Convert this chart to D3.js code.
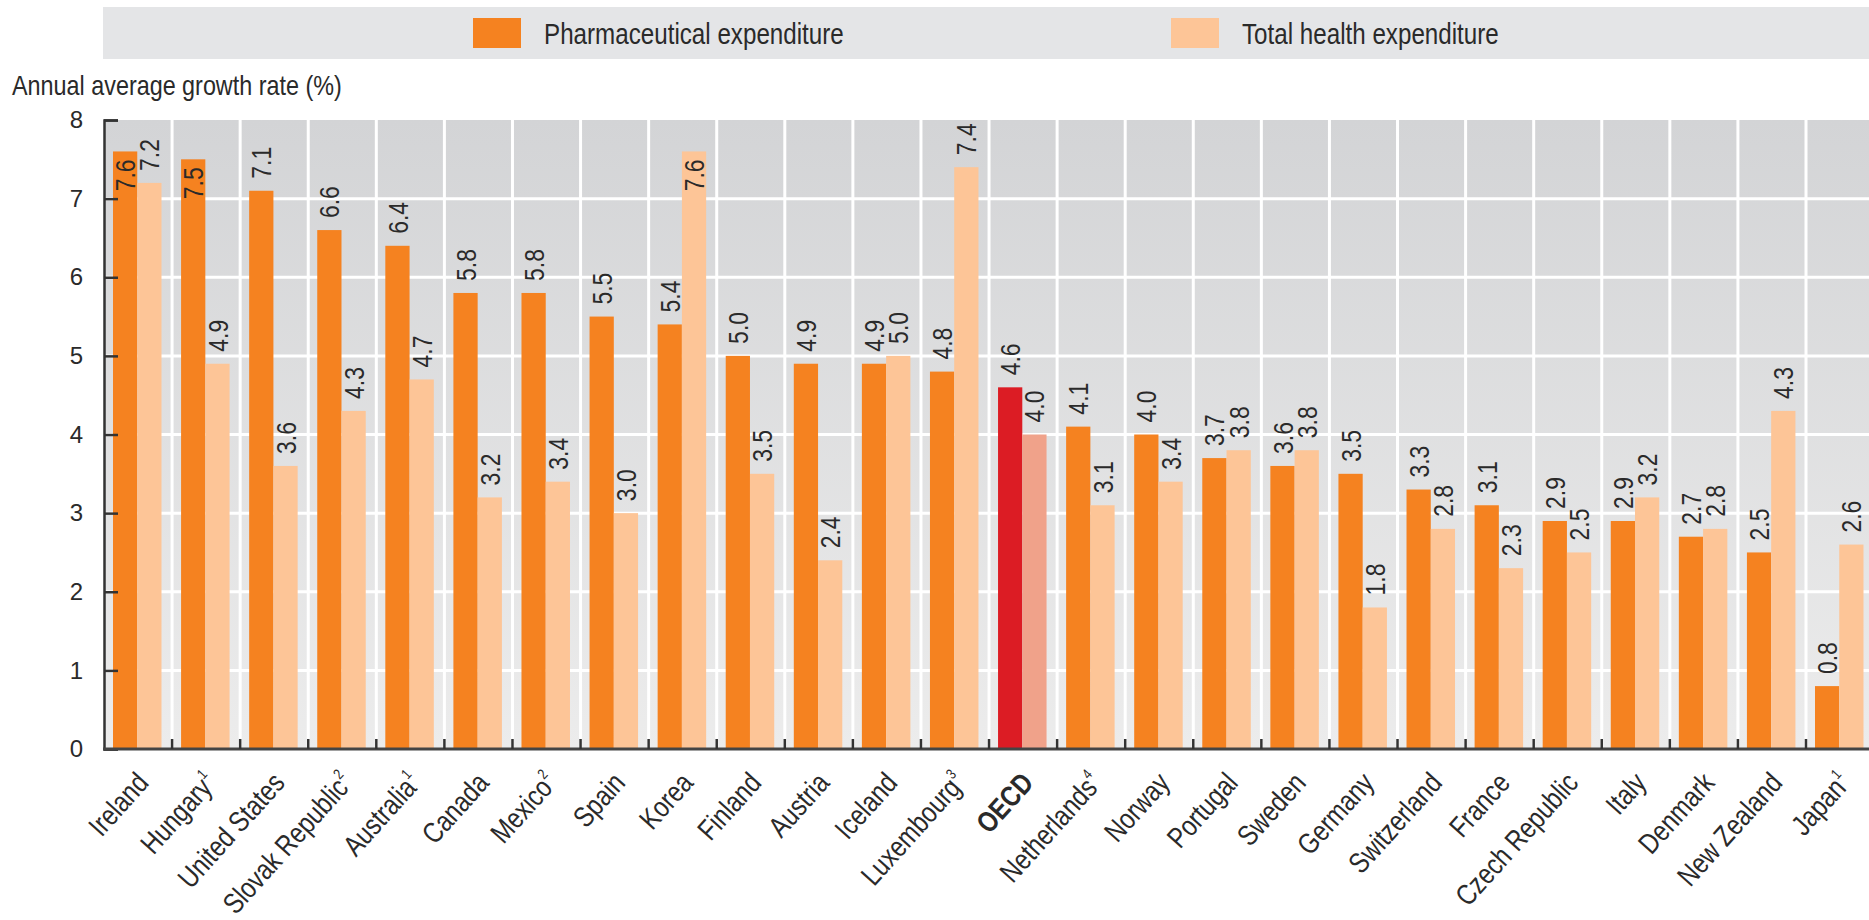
<!DOCTYPE html>
<html>
<head>
<meta charset="utf-8">
<script src="https://cdnjs.cloudflare.com/ajax/libs/d3/7.8.5/d3.min.js"></script>
<style>
  body { margin: 0; background: #fff; }
  svg { display: block; font-family: "Liberation Sans", Arial, sans-serif; }
</style>
</head>
<body>
<div id="chart"></div>
<script>
// data
const countries = ["Ireland", "Hungary", "United States", "Slovak Republic", "Australia", "Canada", "Mexico", "Spain", "Korea", "Finland", "Austria", "Iceland", "Luxembourg", "OECD", "Netherlands", "Norway", "Portugal", "Sweden", "Germany", "Switzerland", "France", "Czech Republic", "Italy", "Denmark", "New Zealand", "Japan"];
const notes = ["", "1", "", "2", "1", "", "2", "", "", "", "", "", "3", "", "4", "", "", "", "", "", "", "", "", "", "", "1"];
const pharma = [7.6, 7.5, 7.1, 6.6, 6.4, 5.8, 5.8, 5.5, 5.4, 5.0, 4.9, 4.9, 4.8, 4.6, 4.1, 4.0, 3.7, 3.6, 3.5, 3.3, 3.1, 2.9, 2.9, 2.7, 2.5, 0.8];
const total = [7.2, 4.9, 3.6, 4.3, 4.7, 3.2, 3.4, 3.0, 7.6, 3.5, 2.4, 5.0, 7.4, 4.0, 3.1, 3.4, 3.8, 3.8, 1.8, 2.8, 2.3, 2.5, 3.2, 2.8, 4.3, 2.6];
const seriesNames = ["Pharmaceutical expenditure", "Total health expenditure"];
const yTicks = [0, 1, 2, 3, 4, 5, 6, 7, 8];
const yTitle = "Annual average growth rate (%)";

const W = 1869, H = 920;
const plotLeft = 104, plotTop = 120, plotBottom = 749;
const band = 68.08;
const narrow = 0.82; // the source font is a condensed face

const colors = { pharma: "#f58220", total: "#fdc597" };
const oecdColors = { pharma: "#dc1c24", total: "#f0a28a" };

const svg = d3.select("#chart").append("svg")
  .attr("width", W)
  .attr("height", H);

const defs = svg.append("defs");
const grad = defs.append("linearGradient")
  .attr("id", "bg")
  .attr("x1", 0).attr("y1", 0).attr("x2", 0).attr("y2", 1);
grad.append("stop").attr("offset", "0%").attr("stop-color", "#d3d4d6");
grad.append("stop").attr("offset", "100%").attr("stop-color", "#ececec");

const x = d3.scaleBand()
  .domain(countries)
  .range([plotLeft, plotLeft + band * countries.length])
  .padding(0);

const xInner = d3.scaleBand()
  .domain(["pharma", "total"])
  .range([9, 57.5]);

const y = d3.scaleLinear()
  .domain([0, 8])
  .range([plotBottom, plotTop]);

// legend band
svg.append("rect")
  .attr("x", 103).attr("y", 7)
  .attr("width", W - 103).attr("height", 52)
  .attr("fill", "#e4e5e7");

const legendX = [473, 1171];
seriesNames.forEach((name, i) => {
  const key = i === 0 ? "pharma" : "total";
  svg.append("rect")
    .attr("x", legendX[i]).attr("y", 18)
    .attr("width", 48).attr("height", 30)
    .attr("fill", colors[key]);
  svg.append("text")
    .attr("transform", `translate(${legendX[i] + 71},44) scale(${narrow},1)`)
    .attr("font-size", 29.5)
    .attr("fill", "#2a2a2a")
    .text(name);
});

// y title
svg.append("text")
  .attr("transform", `translate(12,95) scale(${narrow},1)`)
  .attr("font-size", 28.5)
  .attr("fill", "#2a2a2a")
  .text(yTitle);

// plot background
svg.append("rect")
  .attr("x", plotLeft).attr("y", plotTop)
  .attr("width", W - plotLeft).attr("height", plotBottom - plotTop)
  .attr("fill", "url(#bg)");

// white grid
svg.append("g")
  .selectAll("line")
  .data(yTicks.filter(t => t > 0 && t < 8))
  .enter().append("line")
  .attr("x1", plotLeft).attr("x2", W)
  .attr("y1", d => y(d)).attr("y2", d => y(d))
  .attr("stroke", "#fff").attr("stroke-width", 3);

svg.append("g")
  .selectAll("line")
  .data(countries.slice(1))
  .enter().append("line")
  .attr("x1", d => x(d)).attr("x2", d => x(d))
  .attr("y1", plotTop).attr("y2", plotBottom)
  .attr("stroke", "#fff").attr("stroke-width", 3);

// bars
const rows = countries.map((c, i) => ({ country: c, pharma: pharma[i], total: total[i] }));
const bars = [];
rows.forEach(r => {
  ["pharma", "total"].forEach(k => bars.push({ country: r.country, key: k, value: r[k] }));
});

svg.append("g")
  .selectAll("rect")
  .data(bars)
  .enter().append("rect")
  .attr("x", d => x(d.country) + xInner(d.key))
  .attr("y", d => y(d.value))
  .attr("width", xInner.bandwidth())
  .attr("height", d => y(0) - y(d.value))
  .attr("fill", d => d.country === "OECD" ? oecdColors[d.key] : colors[d.key]);

// value labels, rotated; pushed inside the bar when they would leave the plot
const labels = svg.append("g")
  .selectAll("text")
  .data(bars)
  .enter().append("text")
  .attr("font-size", 28)
  .attr("fill", "#2a2a2a")
  .attr("dy", "0.36em")
  .text(d => d.value.toFixed(1));

labels.each(function (d) {
  const len = this.getComputedTextLength() * narrow;
  const cx = x(d.country) + xInner(d.key) + xInner.bandwidth() / 2;
  const top = y(d.value);
  const sel = d3.select(this);
  if (top - 12 - len < plotTop) {
    sel.attr("text-anchor", "end")
      .attr("transform", `translate(${cx},${top + 8}) rotate(-90) scale(${narrow},1)`);
  } else {
    sel.attr("text-anchor", "start")
      .attr("transform", `translate(${cx},${top - 12}) rotate(-90) scale(${narrow},1)`);
  }
});

// y axis, ticks pointing into the plot
const yAxis = svg.append("g")
  .attr("transform", `translate(${plotLeft},0)`)
  .call(d3.axisLeft(y).tickValues(yTicks).tickSizeInner(-14).tickSizeOuter(-14).tickPadding(21));
yAxis.select(".domain").attr("stroke", "#333").attr("stroke-width", 2.5);
yAxis.selectAll(".tick line").attr("stroke", "#333").attr("stroke-width", 2.5);
yAxis.selectAll(".tick text")
  .attr("font-size", 24)
  .attr("font-family", "Liberation Sans, Arial, sans-serif")
  .attr("fill", "#2a2a2a");

// x axis line and boundary ticks
svg.append("line")
  .attr("x1", plotLeft - 1).attr("x2", W)
  .attr("y1", plotBottom).attr("y2", plotBottom)
  .attr("stroke", "#444").attr("stroke-width", 3);

svg.append("g")
  .selectAll("line")
  .data(countries.slice(1))
  .enter().append("line")
  .attr("x1", d => x(d)).attr("x2", d => x(d))
  .attr("y1", plotBottom).attr("y2", plotBottom - 10)
  .attr("stroke", "#333").attr("stroke-width", 2.5);

// category labels
const xl = svg.append("g")
  .selectAll("text")
  .data(countries)
  .enter().append("text")
  .attr("text-anchor", "end")
  .attr("font-size", 29)
  .attr("font-weight", d => d === "OECD" ? "bold" : "normal")
  .attr("fill", "#2a2a2a")
  .attr("transform", d => `translate(${x(d) + band / 2 + 12},784) rotate(-48) scale(${narrow},1)`);

xl.append("tspan").text(d => d);
xl.append("tspan")
  .attr("font-size", 15)
  .attr("dy", "-0.9em")
  .text((d, i) => notes[i]);
</script>
</body>
</html>
